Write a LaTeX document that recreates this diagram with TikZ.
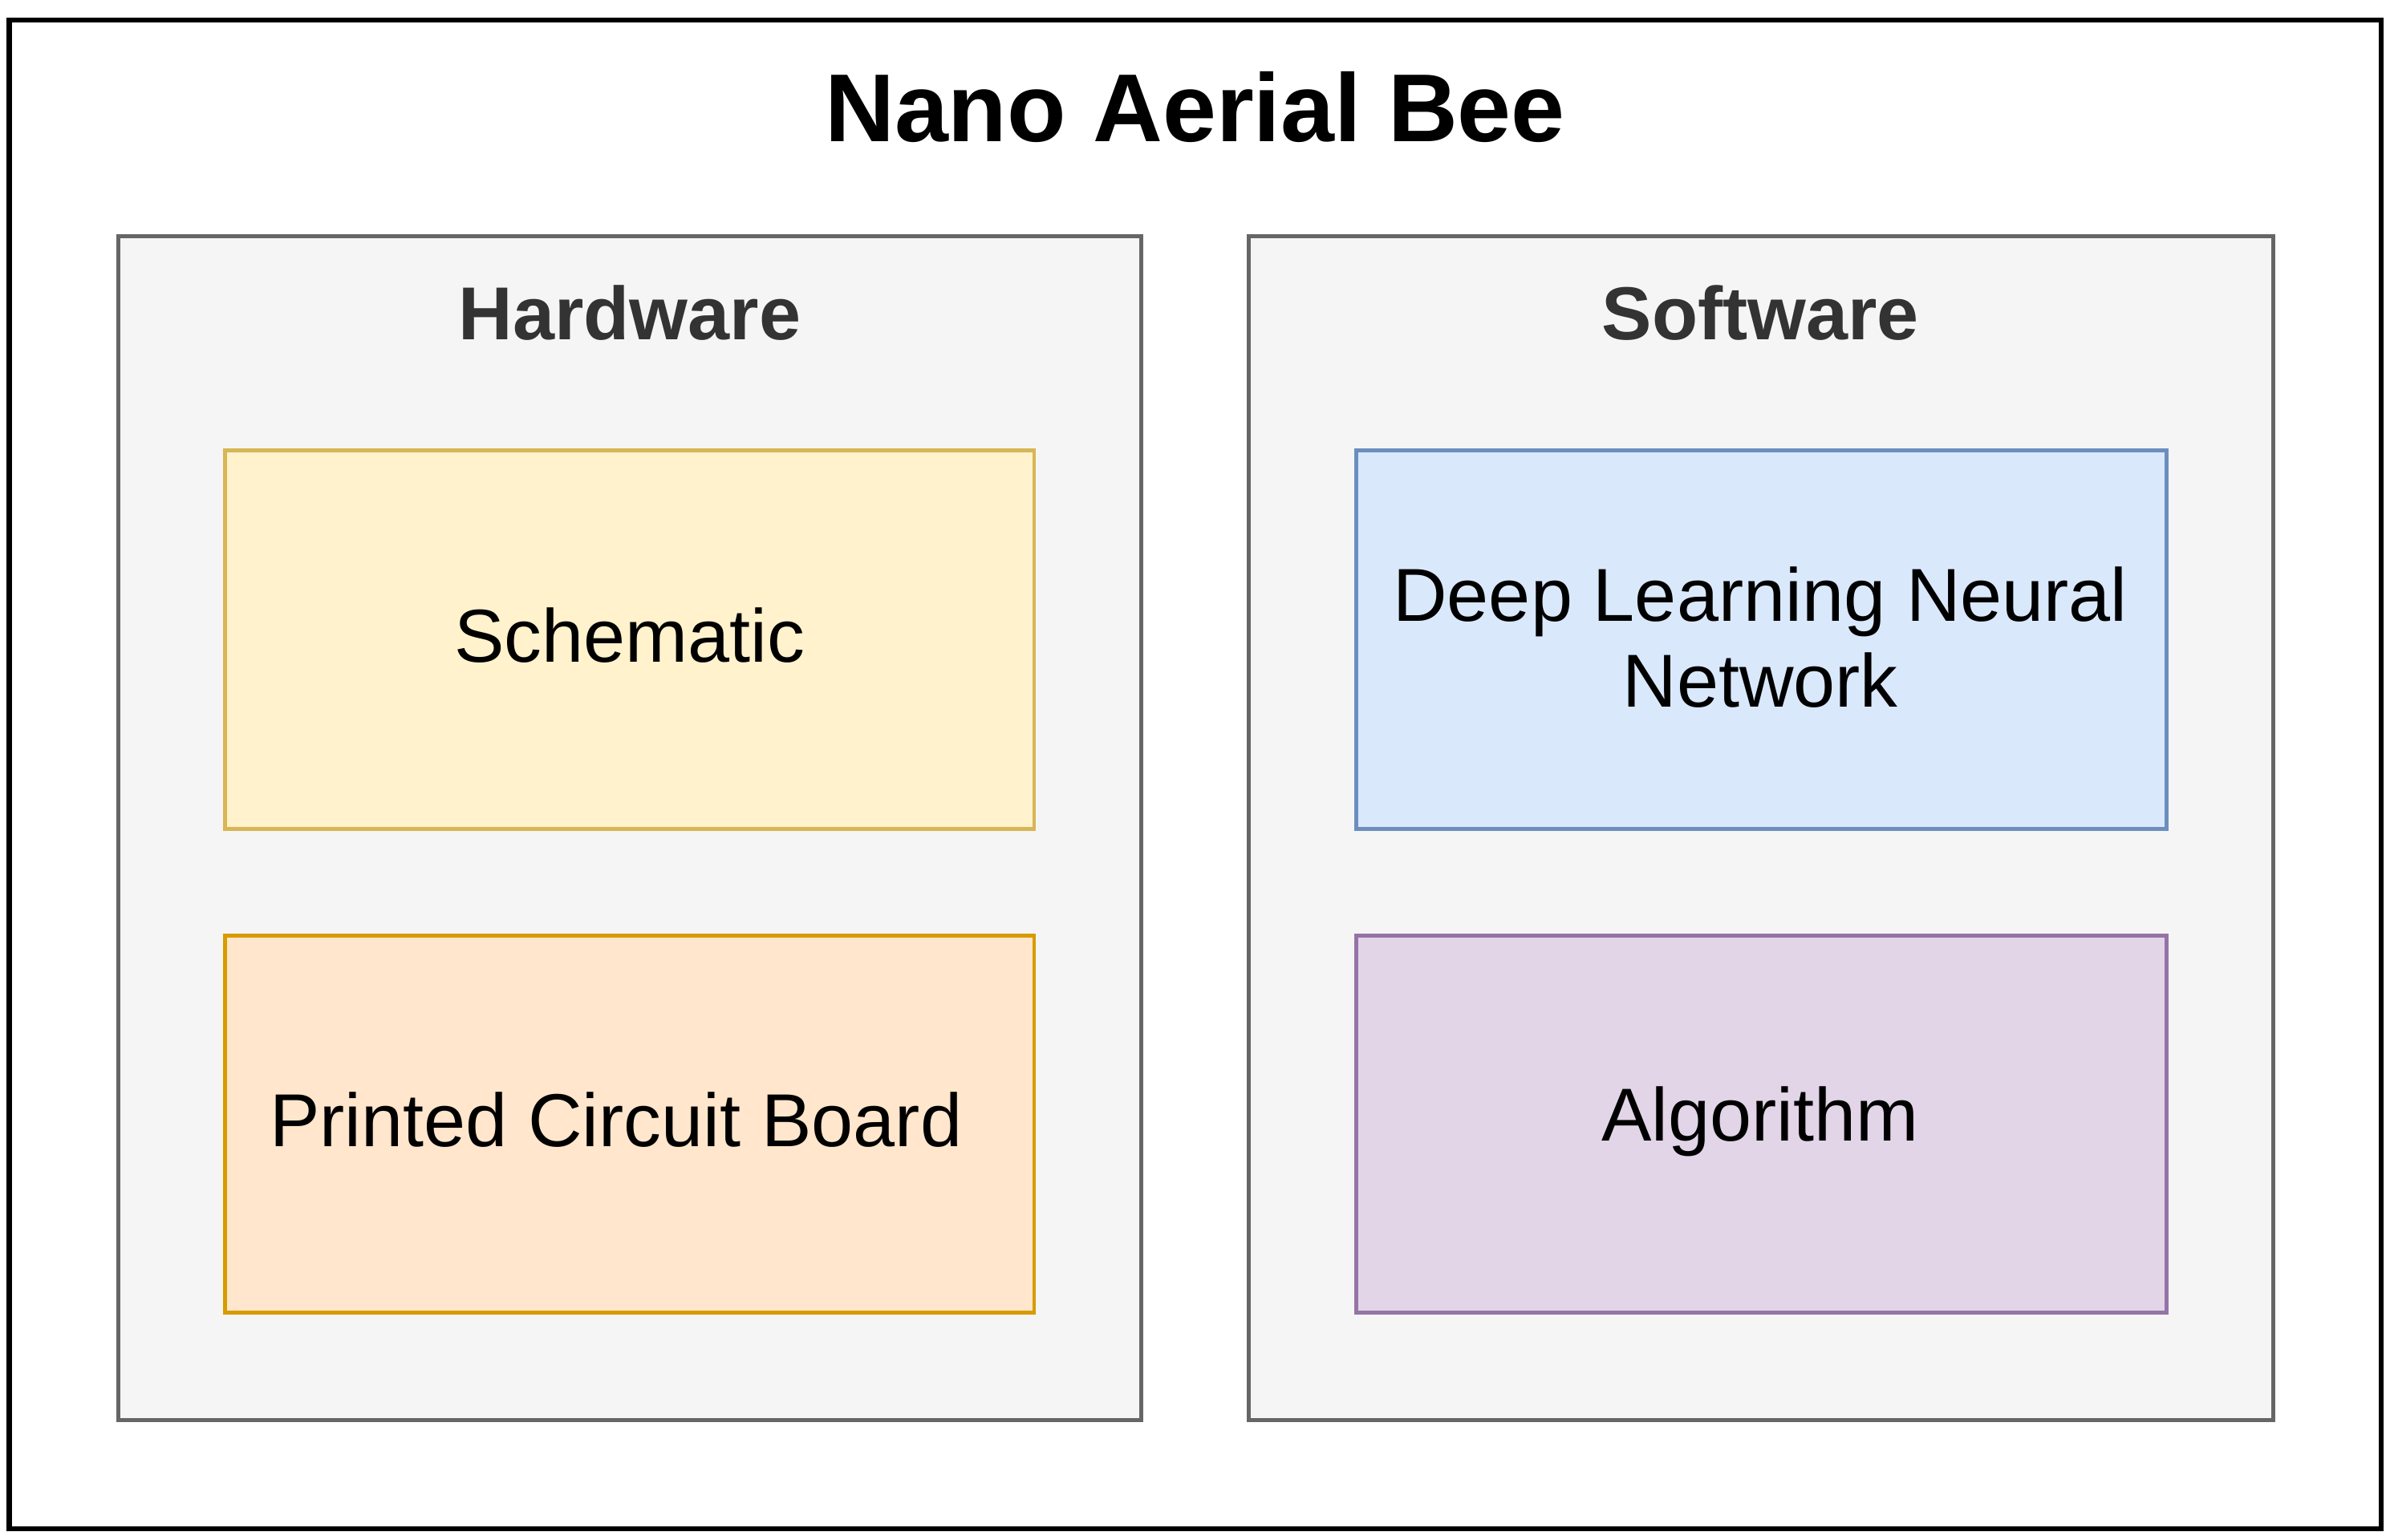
\documentclass[tikz,border=0pt]{standalone}
\usepackage{fontspec}
\setmainfont{Liberation Sans}
\definecolor{yf}{HTML}{FFF2CC}\definecolor{yd}{HTML}{D6B656}
\definecolor{of}{HTML}{FFE6CC}\definecolor{od}{HTML}{D79B00}
\definecolor{bf}{HTML}{DAE8FC}\definecolor{bd}{HTML}{6C8EBF}
\definecolor{pf}{HTML}{E1D5E7}\definecolor{pd}{HTML}{9673A6}
\definecolor{gf}{HTML}{F5F5F5}\definecolor{gd}{HTML}{666666}
\definecolor{gt}{HTML}{333333}
\begin{document}
\begin{tikzpicture}[x=1bp,y=-1bp,
 grp/.style={draw=gd,fill=gf,line width=2.6bp},
 box/.style={line width=2.6bp},
 lbl/.style={font=\fontsize{49bp}{56bp}\selectfont,align=center},
 hd/.style={font=\fontsize{49bp}{56bp}\selectfont\bfseries,text=gt}]
\useasboundingbox (0,0) rectangle (1560,1005);
\draw[line width=3.2bp] (6,13) rectangle (1554,998);
\node[font=\fontsize{63bp}{70bp}\selectfont\bfseries] (title) at (780,70) {Nano Aerial Bee};
\draw[grp] (77,154) rectangle (745,927);
\draw[grp] (815,154) rectangle (1484,927);
\node[hd] (hw) at (411,204) {Hardware};
\node[hd] (sw) at (1149,204) {Software};
\draw[box,draw=yd,fill=yf] (147,294) rectangle (675,541);
\node[lbl] (sch) at (411,415) {Schematic};
\draw[box,draw=od,fill=of] (147,611) rectangle (675,857);
\node[lbl] (pcb) at (402,731) {Printed Circuit Board};
\draw[box,draw=bd,fill=bf] (885,294) rectangle (1414,541);
\node[lbl] (dl) at (1149,416) {Deep Learning Neural\\Network};
\draw[box,draw=pd,fill=pf] (885,611) rectangle (1414,857);
\node[lbl] (alg) at (1149,732) {Algorithm};
\end{tikzpicture}
\end{document}
